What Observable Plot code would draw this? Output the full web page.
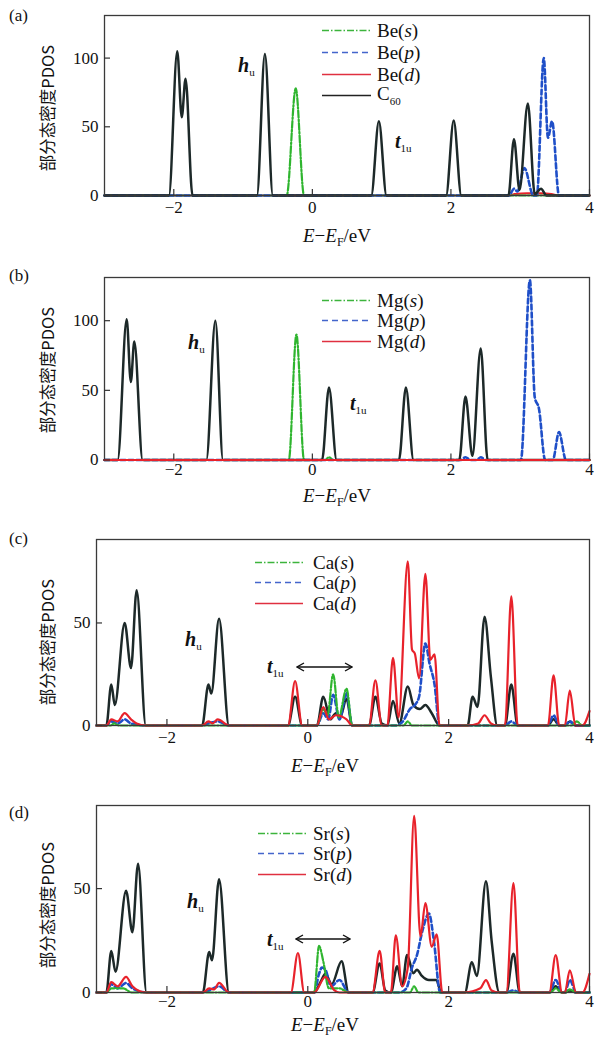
<!DOCTYPE html>
<html><head><meta charset="utf-8">
<script src="https://cdn.jsdelivr.net/npm/d3@7"></script>
<script src="https://cdn.jsdelivr.net/npm/@observablehq/plot@0.6"></script>
<style>
body{margin:0;background:#fff;}
#wrap{position:relative;width:595px;height:1041px;overflow:hidden;font-family:"Liberation Serif",serif;color:#111;background:#fff;}
#wrap svg text{font-family:"Liberation Serif",serif;}
.abs{position:absolute;white-space:nowrap;line-height:1;}
.plab{font-size:17px;transform:translate(0,-50%);}
.ylab{font-family:"Noto Sans CJK SC",sans-serif;font-size:16.5px;transform:translate(-50%,-50%) rotate(-90deg);}
.xt{font-size:19px;transform:translate(-50%,-50%);}
.ann{font-size:20px;font-style:italic;font-weight:bold;transform:translate(0,-50%);}
.ann sub{font-size:11px;font-style:normal;font-weight:normal;vertical-align:-4px;}
.leg{font-size:19px;transform:translate(0,-50%);display:flex;align-items:center;}
.leg svg{margin-right:6px;}
.xt sub{font-size:12px;vertical-align:-4px;}
.leg sub{font-size:11px;vertical-align:-5px;}
</style></head><body><div id="wrap"></div>
<script>
// ---------- data: [E - EF (eV), PDOS] points ----------
const xTicks = [-2, 0, 2, 4];
const yTicksAB = [0, 50, 100];
const yTicksCD = [0, 50];

// (a) Be@C60
const aC60 = [[-3,0],[-2.07,0],[-1.95,105],[-1.885,57],[-1.83,85],[-1.73,0],[-0.80,0],[-0.685,103],[-0.57,0],
  [0.85,0],[0.96,54],[1.07,0],[1.93,0],[2.04,54.5],[2.15,0],[2.83,0],[2.91,41],[2.99,4],[3.11,67],[3.21,1],[3.30,5],[3.38,0],[4,0]];
const aS = [[-3,0],[-0.37,0],[-0.24,78],[-0.12,0],[4,0]];
const aP = [[-3,0],[2.84,0],[2.91,5],[2.96,3],[3.06,20],[3.19,0],[3.24,0],[3.34,100],[3.40,42],[3.46,54],[3.56,0],[4,0]];
const aD = [[-3,0],[2.85,0],[2.92,1],[3.1,1.5],[3.3,1.5],[3.45,1],[3.55,0],[4,0]];

// (b) Mg@C60
const bC60 = [[-3,0],[-2.81,0],[-2.68,101],[-2.62,56],[-2.57,85],[-2.45,0],[-1.53,0],[-1.40,100],[-1.29,0],
  [0.14,0],[0.24,52],[0.35,0],[1.25,0],[1.35,52],[1.46,0],[2.12,0],[2.21,45.5],[2.31,3],[2.43,80],[2.53,0],[4,0]];
const bS = [[-3,0],[-0.34,0],[-0.23,90],[-0.12,0],[0.18,0],[0.24,2],[0.30,0],[4,0]];
const bP = [[-3,0],[2.14,0],[2.21,2],[2.28,0],[2.37,0],[2.43,2],[2.50,0],[3.01,0],[3.14,129],[3.21,45],[3.27,37],[3.36,0],[3.47,0],[3.56,20],[3.66,0],[4,0]];
const bD = [[-3,0],[4,0]];

// (c) Ca@C60
const cC60 = [[-3,0],[-2.86,0],[-2.79,20],[-2.74,10],[-2.60,50],[-2.51,28],[-2.43,66],[-2.30,0],
  [-1.50,0],[-1.41,20],[-1.37,15.6],[-1.26,52],[-1.12,0],[-0.28,0],[-0.18,14],[-0.08,0],
  [0.13,0],[0.22,14],[0.32,3],[0.40,6],[0.46,4],[0.55,13],[0.63,0],
  [0.87,0],[0.96,14],[1.05,1],[1.13,0],[1.21,12],[1.30,1],[1.42,19],[1.50,10],[1.59,8],[1.67,10],[1.76,6],[1.87,0],
  [2.27,0],[2.34,14],[2.41,9],[2.51,53],[2.60,23.6],[2.69,0],[2.80,0],[2.89,20],[2.98,0],
  [3.41,0],[3.49,3],[3.57,0],[3.65,0],[3.72,2],[3.80,0],[4,0]];
const cS = [[-3,0],[-2.80,0],[-2.75,1],[-2.68,0],[0.13,0],[0.22,8],[0.28,5],[0.36,25],[0.44,4],[0.55,18],[0.63,0],
  [1.36,0],[1.42,2],[1.48,0],[3.75,0],[3.82,2],[3.90,0],[4,0]];
const cP = [[-3,0],[-2.86,0],[-2.79,2],[-2.70,1],[-2.60,3],[-2.51,1],[-2.30,0],[-1.50,0],[-1.41,1],[-1.28,2],[-1.12,0],
  [0.13,0],[0.22,6],[0.29,3],[0.36,15],[0.45,3],[0.55,16],[0.63,0],
  [1.25,0],[1.35,2],[1.45,8],[1.52,10],[1.58,14],[1.67,40],[1.73,30],[1.80,20],[1.87,0],
  [2.80,0],[2.89,2],[2.98,0],[3.41,0],[3.49,5],[3.57,0],[3.65,0],[3.72,2],[3.80,0],[4,0]];
const cD = [[-3,0],[-2.86,0],[-2.79,3],[-2.70,2],[-2.60,6],[-2.51,3],[-2.43,1],[-2.30,0],
  [-1.50,0],[-1.41,2],[-1.35,1],[-1.28,3],[-1.12,0],[-0.28,0],[-0.18,21.6],[-0.08,0],
  [0.13,0],[0.22,9],[0.30,3],[0.40,5],[0.55,3],[0.63,0],
  [0.87,0],[0.96,22],[1.05,0],[1.13,0],[1.21,33],[1.29,4],[1.42,80],[1.48,37],[1.52,35],[1.58,23],[1.67,74],[1.74,32],[1.80,34.7],[1.87,0],
  [2.27,0],[2.42,1],[2.51,5],[2.60,1],[2.69,0],[2.80,0],[2.89,63],[2.98,0],
  [3.41,0],[3.49,24.4],[3.57,0],[3.65,0],[3.72,17],[3.80,0],[3.90,0],[4,7]];

// (d) Sr@C60
const dC60 = [[-3,0],[-2.86,0],[-2.79,20],[-2.73,10],[-2.58,49],[-2.49,29],[-2.41,62],[-2.29,0],
  [-1.49,0],[-1.40,19.5],[-1.36,15.5],[-1.26,54.5],[-1.12,0],
  [0.09,0],[0.18,5],[0.25,9],[0.34,4],[0.48,15],[0.58,0],
  [0.92,0],[1.02,14],[1.10,1],[1.18,0],[1.27,12.6],[1.34,3],[1.41,18],[1.50,9.3],[1.55,11],[1.62,8],[1.72,6],[1.82,6],[1.90,0],
  [2.23,0],[2.33,14.6],[2.40,8],[2.53,53.5],[2.61,25],[2.72,0],[2.82,0],[2.92,18.7],[3.01,0],
  [3.43,0],[3.52,3],[3.61,0],[3.65,0],[3.72,1],[3.81,0],[4,0]];
const dS = [[-3,0],[-2.86,0],[-2.79,2],[-2.62,2],[-2.50,0],[0.09,0],[0.16,22.4],[0.22,15],[0.30,2],[0.45,2],[0.58,0],
  [1.45,0],[1.51,3],[1.57,0],[3.45,0],[3.52,2],[3.60,0],[3.66,0],[3.72,1.5],[3.81,0],[4,0]];
const dP = [[-3,0],[-2.86,0],[-2.79,4],[-2.70,2],[-2.58,4.6],[-2.49,2],[-2.29,0],[-1.49,0],[-1.40,1],[-1.26,3],[-1.12,0],
  [0.09,0],[0.16,9],[0.20,12],[0.25,11],[0.33,3],[0.45,6],[0.58,0],
  [1.30,0],[1.40,2],[1.48,12],[1.55,18],[1.63,30],[1.72,38],[1.79,25],[1.88,0],
  [2.82,0],[2.92,1],[3.01,0],[3.43,0],[3.52,6],[3.61,0],[3.65,0],[3.72,6],[3.81,0],[4,0]];
const dD = [[-3,0],[-2.86,0],[-2.79,5],[-2.70,3],[-2.58,7.5],[-2.49,3],[-2.41,1],[-2.29,0],
  [-1.49,0],[-1.40,2],[-1.33,1.5],[-1.26,4.6],[-1.12,0],[-0.24,0],[-0.14,19],[-0.05,0],
  [0.09,0],[0.25,7.5],[0.38,1],[0.45,0],
  [0.92,0],[1.02,20],[1.10,0],[1.18,0],[1.25,27.5],[1.34,3],[1.42,12],[1.51,85],[1.60,27],[1.67,43],[1.76,22],[1.83,28],[1.91,0],
  [2.23,0],[2.45,2],[2.53,6],[2.61,1],[2.72,0],[2.82,0],[2.92,52.7],[3.01,0],
  [3.43,0],[3.52,18],[3.61,0],[3.65,0],[3.72,10.7],[3.81,0],[3.90,0],[4,9]];

const metals = ["Be", "Mg", "Ca", "Sr"];
const panelNames = ["(a)", "(b)", "(c)", "(d)"];

// ---------- styles ----------
const ST = {
  C60: {stroke: "#1d2929", strokeWidth: 2.5},
  s: {stroke: "#2fb52f", strokeWidth: 2.2, strokeDasharray: "7,2,1.5,2"},
  p: {stroke: "#1f4fc8", strokeWidth: 2.6, strokeDasharray: "5,3"},
  d: {stroke: "#e8222b", strokeWidth: 2.2}
};
const LEGST = {
  C60: {stroke: "#222", w: 1.6, dash: null},
  s: {stroke: "#3cb43c", w: 1.4, dash: "7,2,1.5,2"},
  p: {stroke: "#4466cc", w: 1.4, dash: "6,4"},
  d: {stroke: "#e03040", w: 1.4, dash: null}
};

const panels = [
  {top: 0, mt: 15, fh: 180, ml: 104, mr: 6, ymax: 131, yt: yTicksAB, series: {d: aD, s: aS, p: aP, C60: aC60}, redTop: false, tp: 11,
   lab: 15, ylabY: 108, xt: [337, 237],
   leg: {x: 322, len: 50, tx: 377, ys: [30, 52, 74, 95], keys: ["s", "p", "d", "C60"]},
   hu: [238, 66], t1u: [395, 142], arrow: null},
  {top: 260, mt: 17, fh: 182.5, ml: 104, mr: 6, ymax: 131, yt: yTicksAB, series: {s: bS, p: bP, C60: bC60, d: bD}, redTop: true, tp: 9,
   lab: 275, ylabY: 370, xt: [337, 497],
   leg: {x: 322, len: 50, tx: 377, ys: [300, 320, 341], keys: ["s", "p", "d"]},
   hu: [188, 343], t1u: [350, 404], arrow: null},
  {top: 520, mt: 19, fh: 186, ml: 96, mr: 6, ymax: 90.7, yt: yTicksCD, series: {C60: cC60, p: cP, s: cS, d: cD}, redTop: false, tp: 11,
   lab: 538, ylabY: 642, xt: [325, 767],
   leg: {x: 255, len: 48, tx: 313, ys: [562, 582, 603], keys: ["s", "p", "d"]},
   hu: [185, 640], t1u: [267, 667], arrow: [297, 352, 665.5]},
  {top: 785, mt: 20, fh: 187, ml: 96, mr: 6, ymax: 90, yt: yTicksCD, series: {C60: dC60, p: dP, s: dS, d: dD}, redTop: false, tp: 8,
   lab: 812, ylabY: 905, xt: [325, 1026],
   leg: {x: 258, len: 48, tx: 313, ys: [833, 853, 874], keys: ["s", "p", "d"]},
   hu: [187, 902], t1u: [267, 940], arrow: [296, 350, 937.7]}
];

const wrap = document.getElementById("wrap");
function add(html, cls, x, y) {
  const el = document.createElement("div");
  el.className = "abs " + cls;
  el.style.left = x + "px"; el.style.top = y + "px";
  el.innerHTML = html;
  wrap.appendChild(el);
  return el;
}
const toRows = (arr) => arr.map(([x, y]) => ({x, y}));

panels.forEach((P, i) => {
  const mb = 40;
  const marks = [];
  const lineMarks = Object.entries(P.series).map(([k, arr]) =>
    Plot.line(toRows(arr), {x: "x", y: "y", curve: "monotone-x", ...ST[k], strokeLinejoin: "round"}));
  const frame = Plot.frame({stroke: "#3a3a3a", strokeWidth: 1.3});
  const axes = [
    Plot.axisX(xTicks, {tickSize: -6, tickPadding: P.tp, fontSize: 17, stroke: "#333", strokeWidth: 1.2}),
    Plot.axisY(P.yt, {tickSize: -6, tickPadding: 12, fontSize: 17, stroke: "#333", strokeWidth: 1.2})
  ];
  if (P.redTop) marks.push(frame, ...lineMarks, ...axes);
  else marks.push(...lineMarks, frame, ...axes);
  const svg = Plot.plot({
    width: 595, height: P.mt + P.fh + mb,
    marginTop: P.mt, marginBottom: mb, marginLeft: P.ml, marginRight: P.mr,
    style: {fontFamily: "'Liberation Serif', serif", fontSize: "17px", color: "#111", background: "transparent"},
    x: {domain: [-3, 4], label: null, tickFormat: d3.format("")},
    y: {domain: [0, P.ymax], label: null},
    marks
  });
  svg.style.position = "absolute";
  svg.style.left = "0px"; svg.style.top = P.top + "px";
  wrap.appendChild(svg);

  add(panelNames[i], "plab", 9, P.lab);
  add("部分态密度PDOS", "ylab", 47, P.ylabY);
  add("<i>E</i>\u2212<i>E</i><sub>F</sub>/eV", "xt", P.xt[0], P.xt[1]);
  add("h<sub>u</sub>", "ann", P.hu[0], P.hu[1]);
  add("t<sub>1u</sub>", "ann", P.t1u[0], P.t1u[1]);

  // legend
  const names = {s: `${metals[i]}(<i>s</i>)`, p: `${metals[i]}(<i>p</i>)`, d: `${metals[i]}(<i>d</i>)`, C60: "C<sub>60</sub>"};
  P.leg.keys.forEach((k, j) => {
    const L = LEGST[k];
    const svgL = `<svg width="${P.leg.tx - P.leg.x - 6}" height="6"><line x1="0" y1="3" x2="${P.leg.len}" y2="3" stroke="${L.stroke}" stroke-width="${L.w}" ${L.dash ? `stroke-dasharray="${L.dash}"` : ""}/></svg>`;
    add(svgL + `<span>${names[k]}</span>`, "leg", P.leg.x, P.leg.ys[j]);
  });

  if (P.arrow) {
    const [x1, x2, y] = P.arrow;
    const w = x2 - x1;
    add(`<svg width="${w + 2}" height="12"><line x1="1" y1="6" x2="${w + 1}" y2="6" stroke="#111" stroke-width="1.4"/>
      <path d="M8,2 L1,6 L8,10" fill="none" stroke="#111" stroke-width="1.4"/>
      <path d="M${w - 6},2 L${w + 1},6 L${w - 6},10" fill="none" stroke="#111" stroke-width="1.4"/></svg>`, "", x1 - 1, y - 6);
  }
});
</script></body></html>
